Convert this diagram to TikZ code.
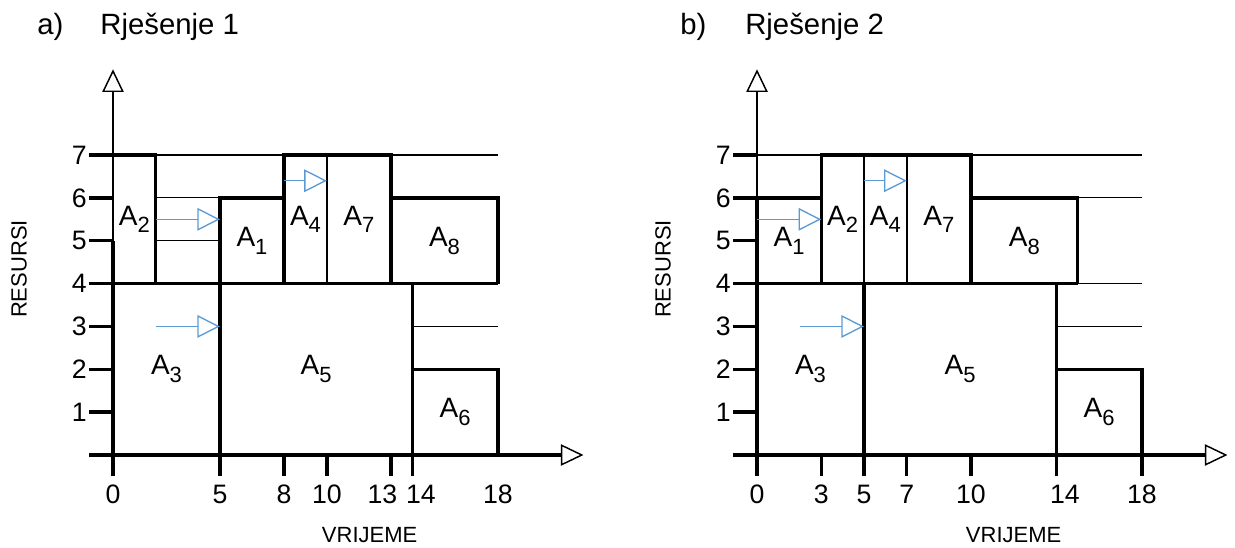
\documentclass[tikz,border=0pt]{standalone}
\usepackage{fontspec}
\setmainfont{Liberation Sans}
\usetikzlibrary{arrows.meta}
\definecolor{plava}{RGB}{91,155,213}
\newcommand{\ak}[1]{A\raisebox{-0.28em}{\fontsize{16.5}{16.5}\selectfont #1}}
\begin{document}
\begin{tikzpicture}[x=0.75pt,y=0.75pt,
  debela/.style={line width=2.5pt},
  srednja/.style={line width=1.6pt},
  tanka/.style={line width=0.8pt},
  os/.style={line width=2.5pt,-{Triangle[open,length=17pt,width=16pt,line width=1.1pt]}},
  pomak/.style={plava,line width=1pt,-{Triangle[open,length=17pt,width=17pt]}},
  blok/.style={font=\fontsize{21}{21}\selectfont,inner sep=0pt},
  broj/.style={font=\fontsize{20}{20}\selectfont,inner sep=0pt},
  naslov/.style={font=\fontsize{22}{22}\selectfont,inner sep=0pt,anchor=base west},
  osnaziv/.style={font=\fontsize{16.5}{16.5}\selectfont,inner sep=0pt}]
\useasboundingbox (0,0) rectangle (1235,547);
% ticks and labels on the resource axis
\def\yosa{
    \draw[debela] (-1.1,7) -- (0,7);
    \draw[debela] (-1.1,6) -- (0,6);
    \draw[debela] (-1.1,5) -- (0,5);
    \draw[debela] (-1.1,3) -- (0,3);
    \draw[debela] (-1.1,2) -- (0,2);
    \draw[debela] (-1.1,1) -- (0,1);
    \node[broj,anchor=east] (r7) at (-1.22,7) {7};
    \node[broj,anchor=east] (r6) at (-1.22,6) {6};
    \node[broj,anchor=east] (r5) at (-1.22,5) {5};
    \node[broj,anchor=east] (r4) at (-1.22,4) {4};
    \node[broj,anchor=east] (r3) at (-1.22,3) {3};
    \node[broj,anchor=east] (r2) at (-1.22,2) {2};
    \node[broj,anchor=east] (r1) at (-1.22,1) {1};
    \node[osnaziv,rotate=90] (resursi) at (-4.39,4.34) {RESURSI};
    \node[osnaziv] (vrijeme) at (12,-1.87) {VRIJEME};
    \draw[os] (-1.1,0) -- (22,0);
}
%%% a) Rjesenje 1
\begin{scope}[shift={(113,92)},x=16.04pt,y=32.14pt]
    \node[naslov] (a) at (-3.55,9.82) {a)};
    \node[naslov] (rj1) at (-0.6,9.82) {Rješenje 1};
    \draw[tanka] (2,7) -- (18,7);
    \draw[tanka] (2,6) -- (5,6);
    \draw[tanka] (2,5) -- (5,5);
    \draw[tanka] (14,3) -- (18,3);
    \draw[debela] (0,7) -- (2,7) -- (2,4);
    \draw[debela] (5,4) -- (5,6) -- (8,6) -- (8,4);
    \draw[debela] (8,6) -- (8,7) -- (13,7) -- (13,4);
    \draw[srednja] (10,4) -- (10,7);
    \draw[debela] (13,6) -- (18,6) -- (18,4);
    \draw[debela] (-1.1,4) -- (18,4);
    \draw[debela] (5,-0.5) -- (5,4);
    \draw[debela] (14,-0.5) -- (14,4);
    \draw[debela] (14,2) -- (18,2) -- (18,0);
    % ticks under the time axis
    \draw[debela] (8,0) -- (8,-0.5);
    \draw[debela] (10,0) -- (10,-0.5);
    \draw[debela] (13,0) -- (13,-0.5);
    \yosa
    \draw[debela] (0,-0.5) -- (0,5);
    \draw[os,line width=1.1pt] (0,5) -- (0,9);
    \draw[pomak] (2,5.5) -- (5,5.5);
    \draw[pomak] (8,6.4) -- (10,6.4);
    \draw[pomak] (2,3) -- (5,3);
    \node[blok] (A2) at (1,5.5) {\ak{2}};
    \node[blok] (A1) at (6.5,5) {\ak{1}};
    \node[blok] (A4) at (9,5.5) {\ak{4}};
    \node[blok] (A7) at (11.5,5.5) {\ak{7}};
    \node[blok] (A8) at (15.5,5) {\ak{8}};
    \node[blok] (A3) at (2.5,2) {\ak{3}};
    \node[blok] (A5) at (9.5,2) {\ak{5}};
    \node[blok] (A6) at (16,1) {\ak{6}};
    \node[broj] (t0) at (0,-0.91) {0};
    \node[broj] (t5) at (5,-0.91) {5};
    \node[broj] (t8) at (8,-0.91) {8};
    \node[broj] (t10) at (10,-0.91) {10};
    \node[broj] (t13) at (12.6,-0.91) {13};
    \node[broj] (t14) at (14.4,-0.91) {14};
    \node[broj] (t18) at (18,-0.91) {18};
\end{scope}
%%% b) Rjesenje 2
\begin{scope}[shift={(757,92)},x=16.04pt,y=32.14pt]
    \node[naslov] (b) at (-3.6,9.82) {b)};
    \node[naslov] (rj2) at (-0.56,9.82) {Rješenje 2};
    \draw[tanka] (0,7) -- (3,7);
    \draw[tanka] (10,7) -- (18,7);
    \draw[tanka] (15,6) -- (18,6);
    \draw[tanka] (15,4) -- (18,4);
    \draw[tanka] (14,3) -- (18,3);
    \draw[debela] (0,6) -- (3,6);
    \draw[debela] (3,4) -- (3,7) -- (10,7) -- (10,6) -- (15,6) -- (15,4);
    \draw[debela] (10,6) -- (10,4);
    \draw[srednja] (5,4) -- (5,7);
    \draw[srednja] (7,4) -- (7,7);
    \draw[debela] (-1.1,4) -- (15,4);
    \draw[debela] (5,-0.5) -- (5,4);
    \draw[debela] (14,-0.5) -- (14,4);
    \draw[debela] (14,2) -- (18,2) -- (18,-0.5);
    % ticks under the time axis
    \draw[debela] (3,0) -- (3,-0.5);
    \draw[debela] (7,0) -- (7,-0.5);
    \draw[debela] (10,0) -- (10,-0.5);
    \yosa
    \draw[debela] (0,-0.5) -- (0,6);
    \draw[os,line width=1.5pt] (0,6) -- (0,9);
    \draw[pomak] (0,5.5) -- (3,5.5);
    \draw[pomak] (5,6.4) -- (7,6.4);
    \draw[pomak] (2,3) -- (5,3);
    \node[blok] (B1) at (1.5,5) {\ak{1}};
    \node[blok] (B2) at (4,5.5) {\ak{2}};
    \node[blok] (B4) at (6,5.5) {\ak{4}};
    \node[blok] (B7) at (8.5,5.5) {\ak{7}};
    \node[blok] (B8) at (12.5,5) {\ak{8}};
    \node[blok] (B3) at (2.5,2) {\ak{3}};
    \node[blok] (B5) at (9.5,2) {\ak{5}};
    \node[blok] (B6) at (16,1) {\ak{6}};
    \node[broj] (s0) at (0,-0.91) {0};
    \node[broj] (s3) at (3,-0.91) {3};
    \node[broj] (s5) at (5,-0.91) {5};
    \node[broj] (s7) at (7,-0.91) {7};
    \node[broj] (s10) at (10,-0.91) {10};
    \node[broj] (s14) at (14.4,-0.91) {14};
    \node[broj] (s18) at (18,-0.91) {18};
\end{scope}
\end{tikzpicture}
\end{document}
